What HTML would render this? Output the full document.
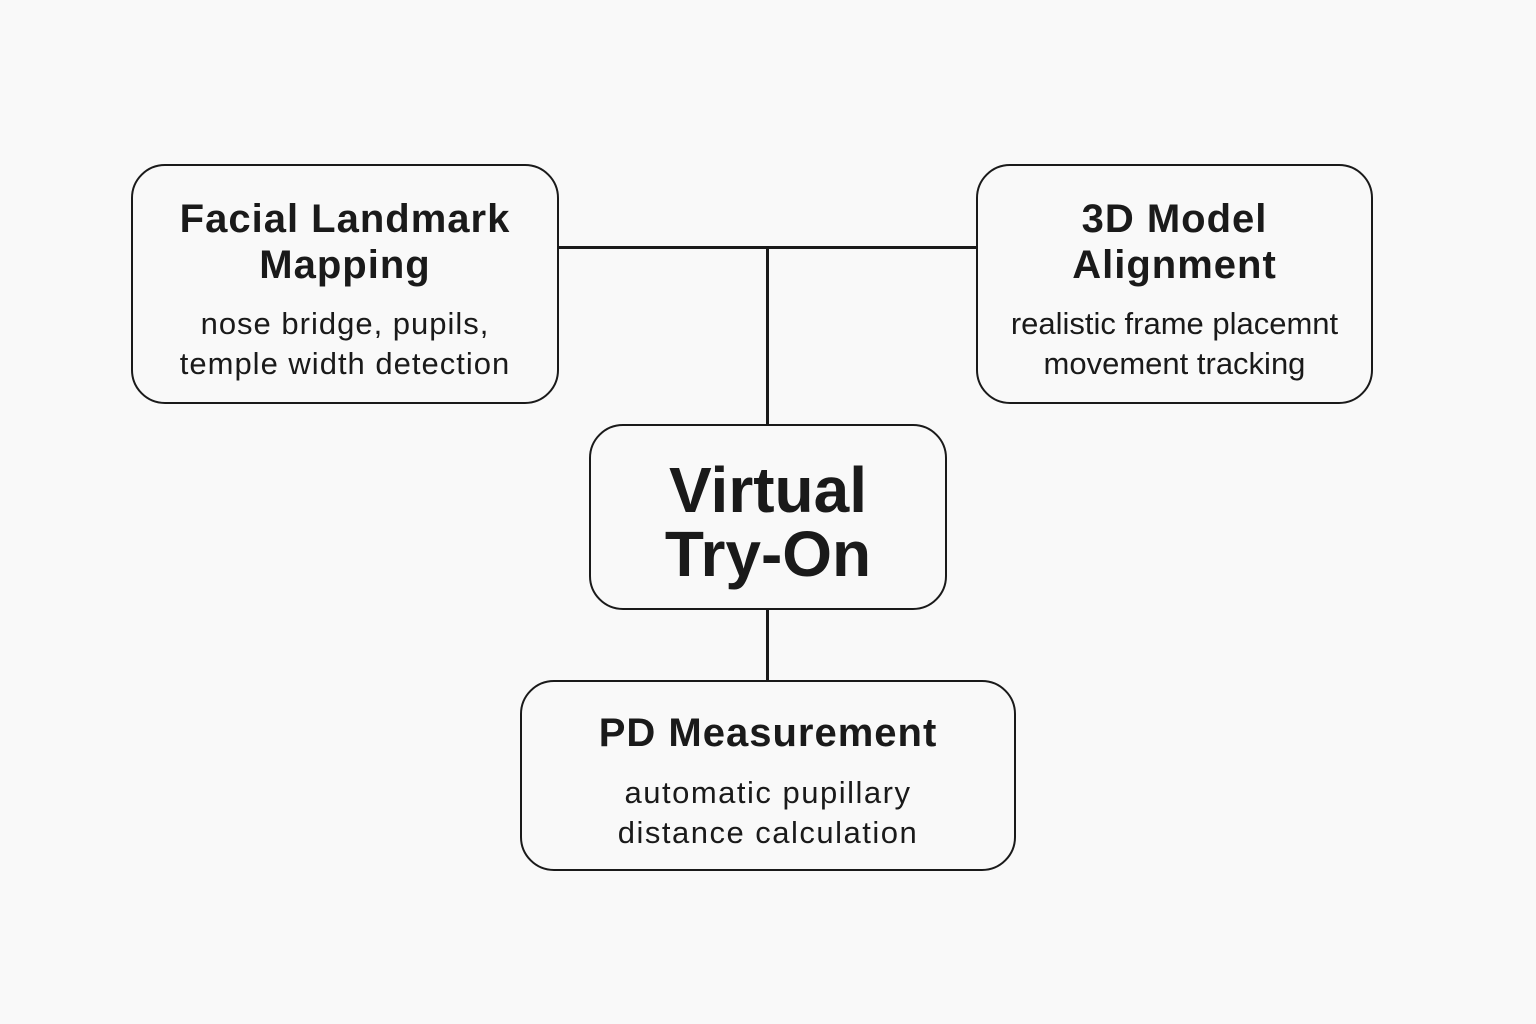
<!DOCTYPE html>
<html><head><style>
html,body{margin:0;padding:0;width:1536px;height:1024px;background:#f9f9f9;overflow:hidden;font-family:"Liberation Sans",sans-serif;color:#1a1a1a}
.b{position:absolute;border:2.5px solid #1a1a1a;border-radius:34px;box-sizing:border-box;text-align:center}
.t{font-weight:bold;font-size:40px;line-height:46px;letter-spacing:1px}
.s{font-size:31px;line-height:40px;letter-spacing:1px}
.l{position:absolute;background:#1a1a1a}
</style></head><body>
<div class="l" style="left:557px;top:246px;width:421px;height:2.5px"></div>
<div class="l" style="left:766px;top:246px;width:2.5px;height:180px"></div>
<div class="l" style="left:766px;top:608px;width:2.5px;height:74px"></div>

<div class="b" style="left:131px;top:164px;width:428px;height:240px">
<div class="t" style="margin-top:30px">Facial Landmark<br>Mapping</div>
<div class="s" style="margin-top:16px">nose bridge, pupils,<br>temple width detection</div></div>

<div class="b" style="left:976px;top:164px;width:397px;height:240px">
<div class="t" style="margin-top:30px">3D Model<br>Alignment</div>
<div class="s" style="margin-top:16px;letter-spacing:0">realistic frame placemnt<br>movement tracking</div></div>

<div class="b" style="left:589px;top:424px;width:358px;height:186px">
<div style="font-weight:bold;font-size:64px;line-height:64px;margin-top:32px">Virtual<br>Try-On</div></div>

<div class="b" style="left:520px;top:680px;width:496px;height:191px">
<div class="t" style="margin-top:28px">PD Measurement</div>
<div class="s" style="margin-top:17px;letter-spacing:1.5px">automatic pupillary<br>distance calculation</div></div>
</body></html>
